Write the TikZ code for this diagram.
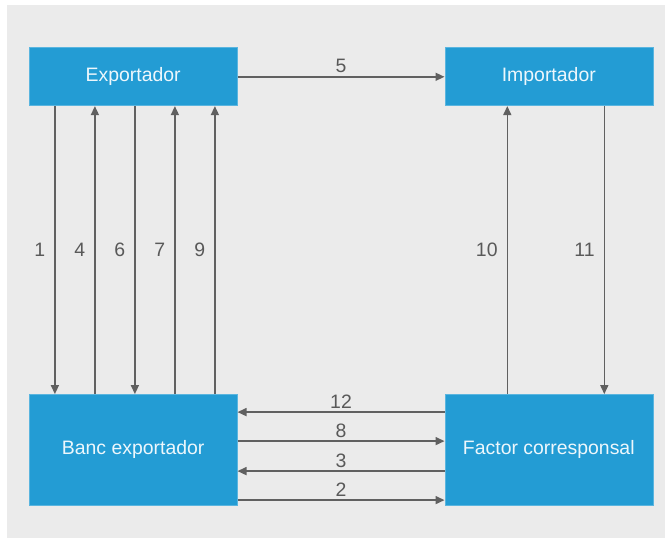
\documentclass[tikz,border=0pt]{standalone}
\usepackage{fontspec}
\setmainfont{Liberation Sans}
\usetikzlibrary{arrows.meta,positioning}
\definecolor{boxBlue}{HTML}{239CD4}
\definecolor{panelGray}{HTML}{EBEBEB}
\definecolor{lineGray}{HTML}{606060}
\definecolor{labelGray}{HTML}{595959}

\begin{document}
\begin{tikzpicture}[x=1bp,y=-1bp,
        party/.style={fill=boxBlue,draw=boxBlue!75!white,line width=0.6bp,minimum width=208bp,
        inner sep=0pt,text=white!92!boxBlue,font=\fontsize{19.5}{22}\selectfont},
        flow/.style={-{Triangle[length=9bp,width=8bp]},line width=1.5bp,draw=lineGray},
        num/.style={font=\fontsize{19.5}{22}\selectfont,text=labelGray,inner sep=3bp}]
        \useasboundingbox (0,0) rectangle (665,539);
        \fill[panelGray] (7,5) rectangle (665,538);
        \node[party,minimum height=58bp] (exp) at (133.2,76.8) {Exportador};
        \node[party,minimum height=58bp,right=207bp of exp] (imp) {Importador};
        \node[party,minimum height=111bp,below=288bp of exp] (banc) {Banc exportador};
        \node[party,minimum height=111bp,right=207bp of banc] (fact) {Factor corresponsal};
        \draw[flow] (exp) -- node[num,above] {5} (imp);
        % exporter <-> bank
        \foreach \dx/\lbl in {26/1,106/6}
            \draw[flow] ([xshift=\dx bp]exp.south west) -- node[num,left=6bp] {\lbl} ([xshift=\dx bp]banc.north west);
        \foreach \dx/\lbl in {66/4,146/7,186/9}
            \draw[flow] ([xshift=\dx bp]banc.north west) -- node[num,left=6bp] {\lbl} ([xshift=\dx bp]exp.south west);
        % importer <-> factor
        \draw[flow] ([xshift=62.8bp]fact.north west) -- node[num,left=6bp] {10} ([xshift=62.8bp]imp.south west);
        \draw[flow] ([xshift=159.8bp]imp.south west) -- node[num,left=6bp] {11} ([xshift=159.8bp]fact.north west);
        % bank <-> factor
        \foreach \dy/\lbl in {18/12,77/3}
            \draw[flow] ([yshift=-\dy bp]fact.north west) -- node[num,above] {\lbl} ([yshift=-\dy bp]banc.north east);
        \foreach \dy/\lbl in {47/8,106/2}
            \draw[flow] ([yshift=-\dy bp]banc.north east) -- node[num,above] {\lbl} ([yshift=-\dy bp]fact.north west);
\end{tikzpicture}
\end{document}
